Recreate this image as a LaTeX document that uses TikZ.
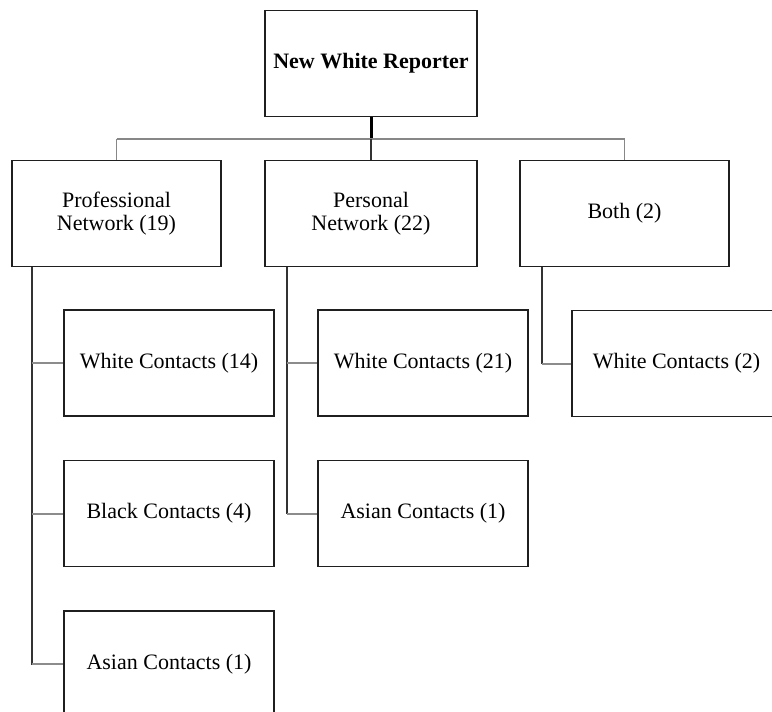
\documentclass[tikz,border=0pt]{standalone}
\usepackage{fontspec}
\setmainfont{Liberation Serif}
\begin{document}
\begin{tikzpicture}[x=1pt,y=-1pt,
  box/.style={draw=black!88,line width=1.4pt,rectangle,minimum width=#1,minimum height=106pt,inner sep=0pt,align=center,font=\fontsize{22}{23.5}\selectfont,fill=white},
  box/.default=209pt,
  bus/.style={draw=black!47,line width=1.6pt},
  trunk/.style={draw=black!80,line width=1.2pt},
  stub/.style={draw=black!45,line width=2pt}]
\useasboundingbox (0,0) rectangle (772,712);
\clip (0,0) rectangle (772,712);
% nodes
\node[box=212pt,font=\bfseries\fontsize{22}{23.5}\selectfont] (root) at (371,63.5) {New White Reporter};
\node[box] (prof) at (116.5,213.5) {Professional\\Network (19)};
\node[box=212pt] (pers) at (371,213.5) {Personal\\Network (22)};
\node[box] (both) at (624.5,213.5) {Both (2)};
\node[box=210pt] (pw) at (169,363) {White Contacts (14)};
\node[box=210pt] (pb) at (169,513.5) {Black Contacts (4)};
\node[box=210pt] (pa) at (169,664) {Asian Contacts (1)};
\node[box=210pt] (sw) at (423,363) {White Contacts (21)};
\node[box=210pt] (sa) at (423,513.5) {Asian Contacts (1)};
\node[box] (bw) at (676.5,363.5) {White Contacts (2)};
% connectors
\coordinate (busc) at (371,139);
\coordinate (busl) at (prof.north |- busc);
\coordinate (busr) at (both.north |- busc);
\draw[line width=3pt,black] (root.south) -- (busc);
\draw[bus] (busl) -- (busr);
\draw[bus] (busl) -- (prof.north);
\draw[bus] (busr) -- (both.north);
\draw[trunk] (busc) -- (pers.north);
% professional trunk
\coordinate (pt) at ([xshift=-84.5pt]prof.south);
\draw[trunk] (pt) |- (pa.west);
\draw[stub] (pt |- pw.west) -- (pw.west);
\draw[stub] (pt |- pb.west) -- (pb.west);
\draw[stub] (pt |- pa.west) -- (pa.west);
% personal trunk
\coordinate (st) at ([xshift=-84pt]pers.south);
\draw[trunk] (st) |- (sa.west);
\draw[stub] (st |- sw.west) -- (sw.west);
\draw[stub] (st |- sa.west) -- (sa.west);
% both trunk
\coordinate (bt) at ([xshift=-82.5pt]both.south);
\draw[trunk] (bt) |- (bw.west);
\draw[stub] (bt |- bw.west) -- (bw.west);
\end{tikzpicture}
\end{document}
